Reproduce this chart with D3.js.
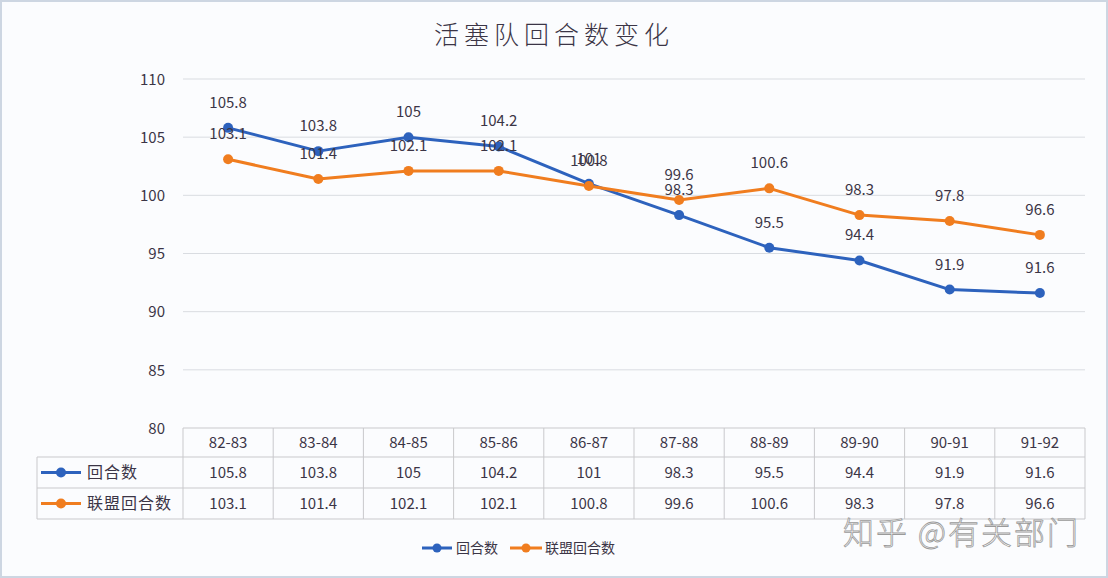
<!DOCTYPE html>
<html><head><meta charset="utf-8">
<script src="https://cdn.jsdelivr.net/npm/d3@7/dist/d3.min.js"></script>
<style>
html,body{margin:0;padding:0;background:#fff;}
svg text{font-family:"Noto Sans CJK SC","Noto Sans",sans-serif;}
</style></head>
<body>
<svg id="c" width="1108" height="578"></svg>
<script>
const categories = ["82-83","83-84","84-85","85-86","86-87","87-88","88-89","89-90","90-91","91-92"];
const rounds = [105.8,103.8,105,104.2,101,98.3,95.5,94.4,91.9,91.6];
const leagueRounds = [103.1,101.4,102.1,102.1,100.8,99.6,100.6,98.3,97.8,96.6];
const yTicks = [80,85,90,95,100,105,110];
const seriesNames = ["回合数","联盟回合数"];
const title = "活塞队回合数变化";
const watermark = "知乎 @有关部门";

const colors = ["#2d62bd","#f07d1f"];
const textColor = "#3b3546";
const gridColor = "#d9dce1";
const tableColor = "#c9c9cc";

const svg = d3.select("#c");
svg.append("rect").attr("x",1).attr("y",1).attr("width",1106).attr("height",576)
  .attr("fill","#fbfcfe").attr("stroke","#cdd6e2").attr("stroke-width",2);

const x = d3.scaleBand().domain(categories).range([183,1085]);
const y = d3.scaleLinear().domain([80,110]).range([428,79]);

svg.append("text").attr("x",554).attr("y",44).attr("text-anchor","middle")
  .attr("font-size",25).attr("letter-spacing",5).attr("font-weight",300).attr("fill",textColor).text(title);

// gridlines
svg.append("g").selectAll("line").data(yTicks.filter(t=>t>80)).join("line")
  .attr("x1",183).attr("x2",1085).attr("y1",d=>y(d)).attr("y2",d=>y(d))
  .attr("stroke",gridColor).attr("stroke-width",1);

// y axis labels
const yAxis = d3.axisLeft(y).tickValues(yTicks).tickSize(0).tickPadding(0);
const ya = svg.append("g").attr("transform","translate(165,0)").call(yAxis);
ya.select(".domain").remove();
ya.selectAll("text").attr("font-size",15).attr("fill",textColor)
  .style("font-family",'"Noto Sans CJK SC",sans-serif').attr("dy","0.35em");

const series = [rounds, leagueRounds];
const cx = d => x(d) + x.bandwidth()/2;
const line = d3.line().x((d,i)=>cx(categories[i])).y(d=>y(d));

series.forEach((s,k)=>{
  svg.append("path").datum(s).attr("d",line).attr("fill","none")
    .attr("stroke",colors[k]).attr("stroke-width",3).attr("stroke-linejoin","round");
});
series.forEach((s,k)=>{
  svg.append("g").selectAll("circle").data(s).join("circle")
    .attr("cx",(d,i)=>cx(categories[i])).attr("cy",d=>y(d)).attr("r",5)
    .attr("fill",colors[k]);
});
series.forEach((s,k)=>{
  svg.append("g").selectAll("text").data(s).join("text")
    .attr("x",(d,i)=>cx(categories[i])).attr("y",d=>y(d)-20)
    .attr("text-anchor","middle").attr("font-size",15).attr("fill",textColor)
    .text(d=>d);
});

// data table
const tbl = svg.append("g");
const rowY = [428,457,488,519];
const tl = 37, tr = 1085, cl = 183;
tbl.append("line").attr("x1",cl).attr("x2",tr).attr("y1",rowY[0]).attr("y2",rowY[0]).attr("stroke",tableColor);
[1,2,3].forEach(r=>tbl.append("line").attr("x1",tl).attr("x2",tr).attr("y1",rowY[r]).attr("y2",rowY[r]).attr("stroke",tableColor));
tbl.append("line").attr("x1",tl).attr("x2",tl).attr("y1",rowY[1]).attr("y2",rowY[3]).attr("stroke",tableColor);
tbl.selectAll("line.v").data(categories.concat(["end"])).join("line").attr("class","v")
  .attr("x1",(d,i)=>i<categories.length?x(d):tr).attr("x2",(d,i)=>i<categories.length?x(d):tr)
  .attr("y1",rowY[0]).attr("y2",rowY[3]).attr("stroke",tableColor);
tbl.selectAll("text.h").data(categories).join("text").attr("class","h")
  .attr("x",d=>cx(d)).attr("y",(rowY[0]+rowY[1])/2).attr("dy","0.35em")
  .attr("text-anchor","middle").attr("font-size",15).attr("fill",textColor).text(d=>d);
series.forEach((s,k)=>{
  const my = (rowY[k+1]+rowY[k+2])/2;
  tbl.selectAll("text.r"+k).data(s).join("text").attr("class","r"+k)
    .attr("x",(d,i)=>cx(categories[i])).attr("y",my).attr("dy","0.35em")
    .attr("text-anchor","middle").attr("font-size",15).attr("fill",textColor).text(d=>d);
  tbl.append("line").attr("x1",41).attr("x2",81).attr("y1",my).attr("y2",my)
    .attr("stroke",colors[k]).attr("stroke-width",3);
  tbl.append("circle").attr("cx",61).attr("cy",my).attr("r",5).attr("fill",colors[k]);
  tbl.append("text").attr("x",87).attr("y",my).attr("dy","0.35em")
    .attr("font-size",16).attr("letter-spacing",1).attr("fill",textColor).text(seriesNames[k]);
});

// legend
const leg = svg.append("g");
const legItems = [{x0:422,x1:452,tx:456},{x0:510,x1:542,tx:545}];
legItems.forEach((it,k)=>{
  leg.append("line").attr("x1",it.x0).attr("x2",it.x1).attr("y1",548).attr("y2",548)
    .attr("stroke",colors[k]).attr("stroke-width",3);
  leg.append("circle").attr("cx",(it.x0+it.x1)/2).attr("cy",548).attr("r",4.5).attr("fill",colors[k]);
  leg.append("text").attr("x",it.tx).attr("y",548).attr("dy","0.35em")
    .attr("font-size",14).attr("fill",textColor).text(seriesNames[k]);
});

// watermark
svg.append("text").attr("x",843).attr("y",544).attr("font-size",31).attr("letter-spacing",2)
  .attr("fill","#ffffff").attr("stroke","#9a9a9a").attr("stroke-width",0.8)
  .style("font-family",'"Noto Sans CJK SC",sans-serif').style("font-weight",300).text(watermark);
</script>
</body></html>
